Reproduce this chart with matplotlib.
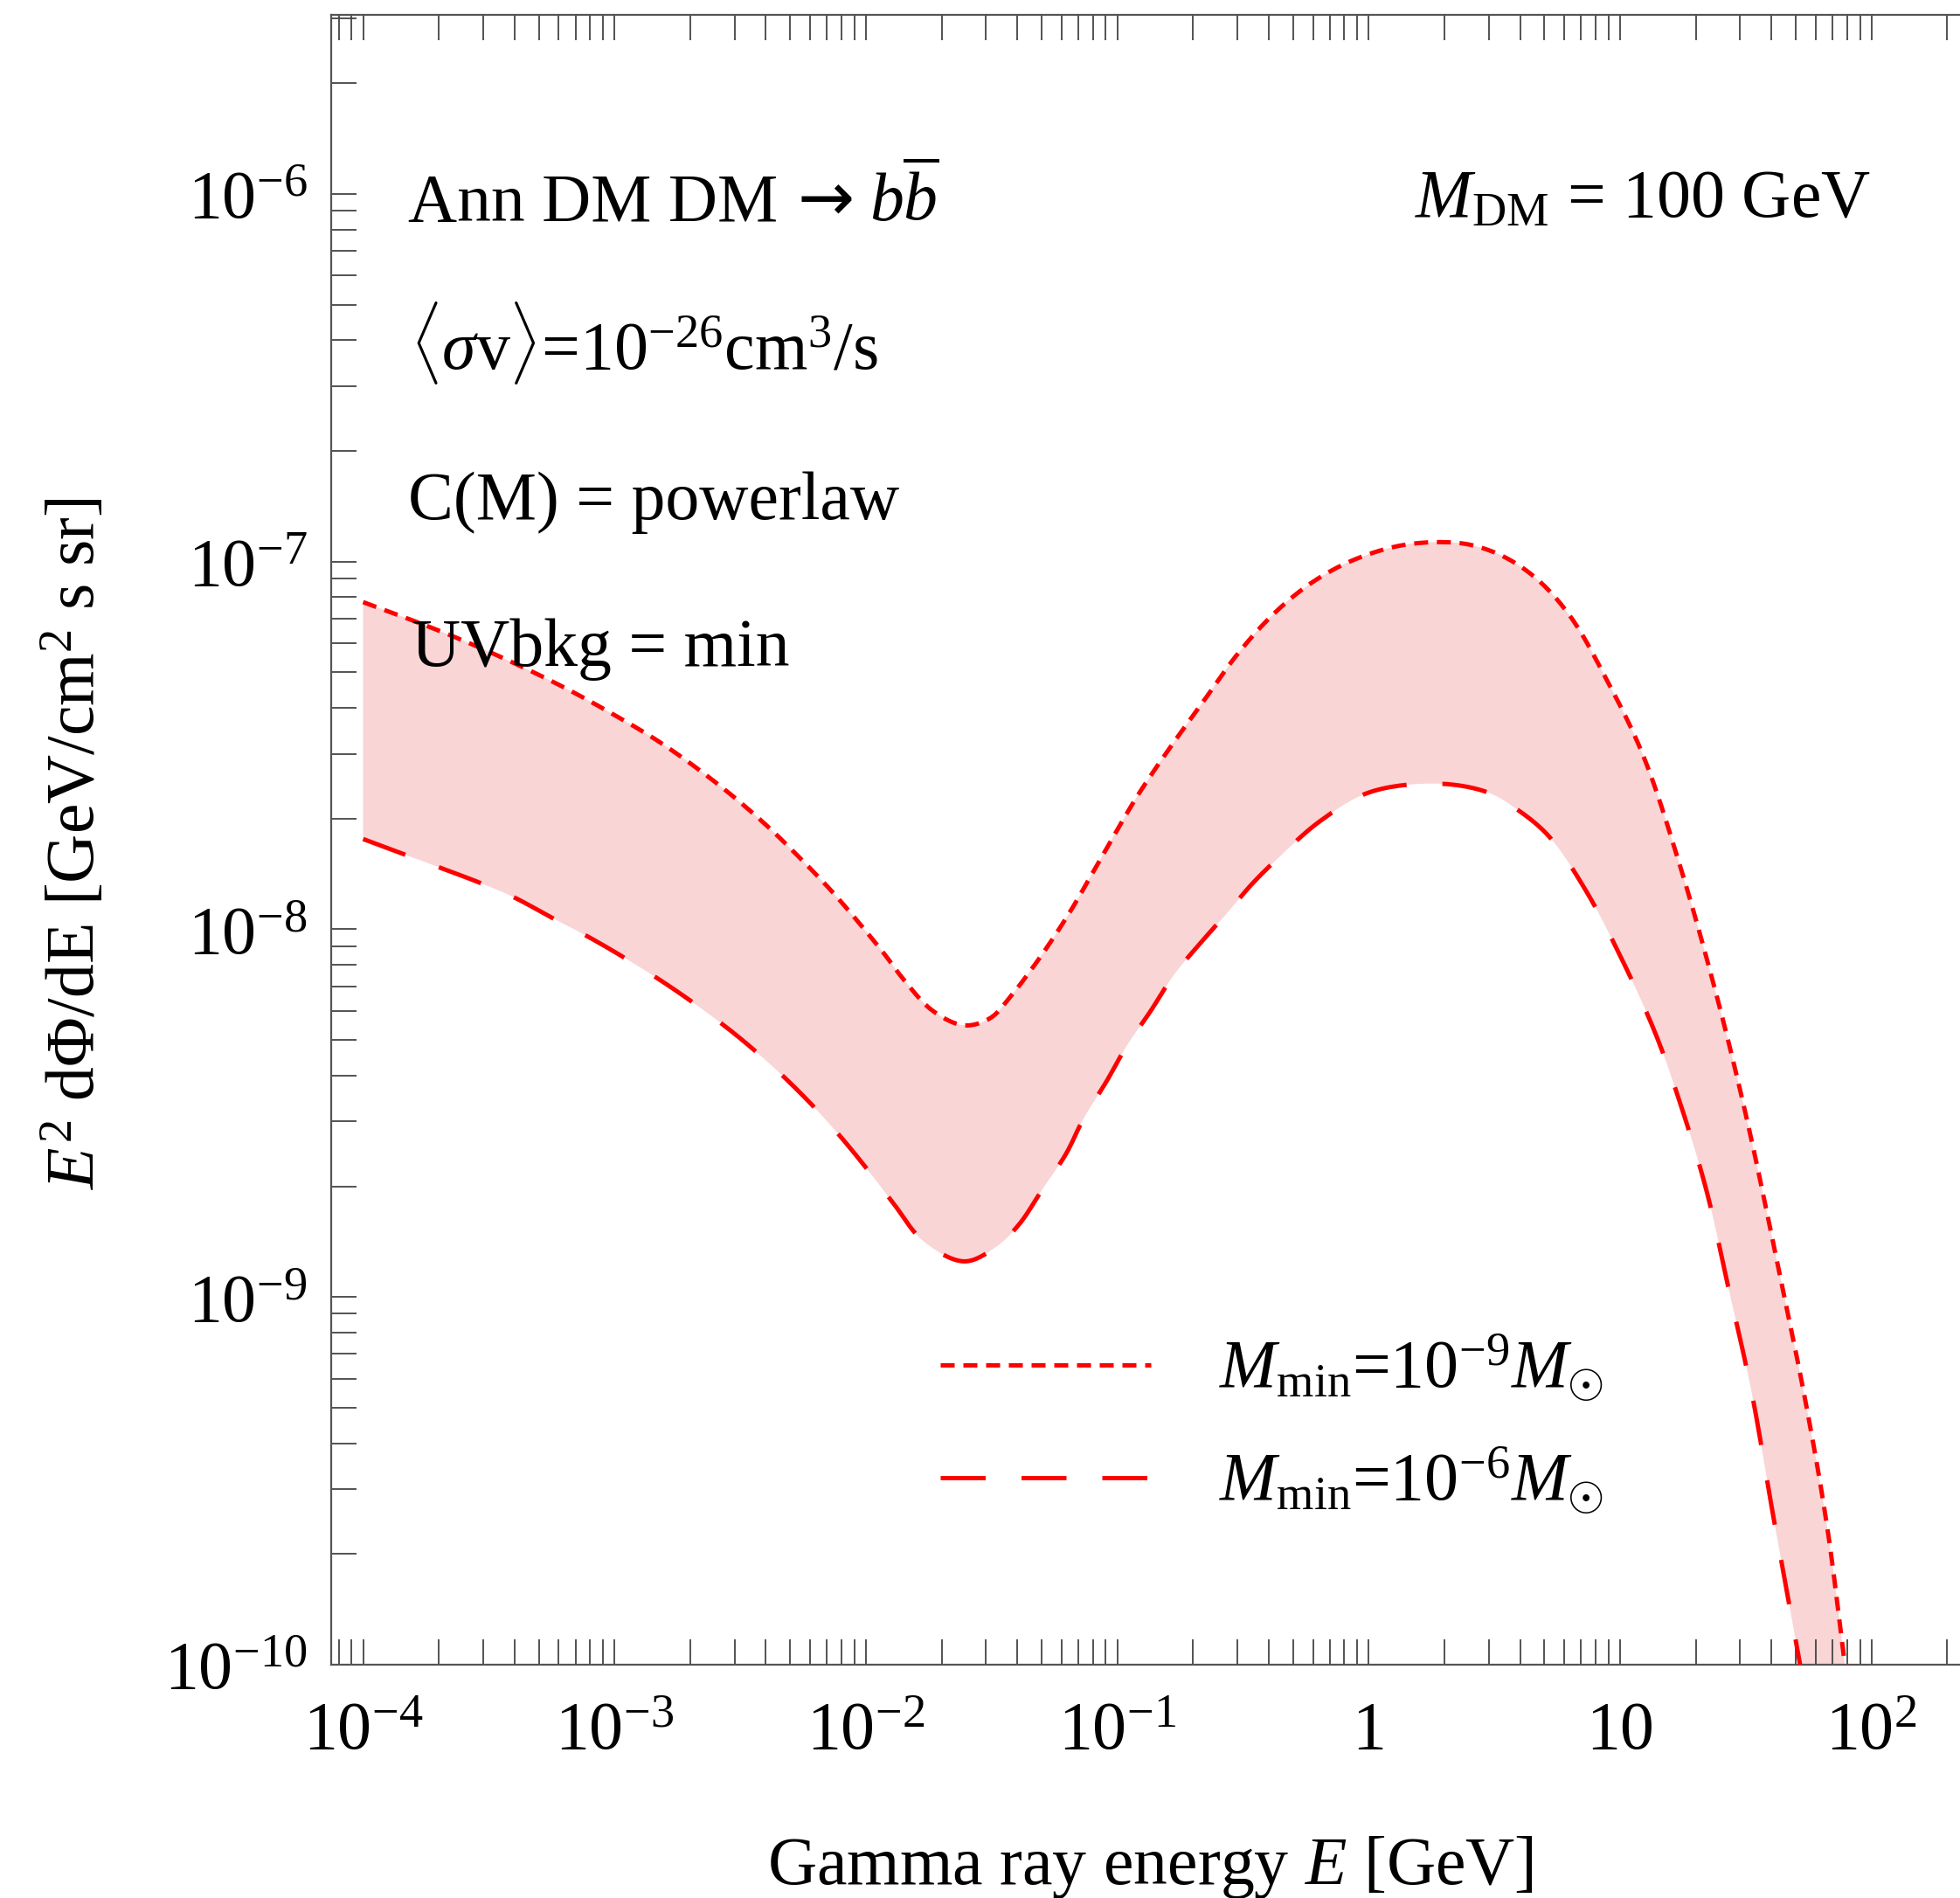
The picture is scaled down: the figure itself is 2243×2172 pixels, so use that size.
import numpy as np
import matplotlib
matplotlib.use('Agg')
import matplotlib.pyplot as plt
from matplotlib.ticker import LogLocator, NullFormatter

plt.rcParams['font.family'] = ['Liberation Serif', 'DejaVu Serif']
plt.rcParams['mathtext.fontset'] = 'custom'
plt.rcParams['mathtext.rm'] = 'Liberation Serif'
plt.rcParams['mathtext.it'] = 'Liberation Serif:italic'
plt.rcParams['mathtext.bf'] = 'Liberation Serif:bold'

# ---- data ----
energy_upper = [1.0e-4, 1.53e-4, 2.43e-4, 3.86e-4, 6.37e-4, 9.77e-4, 1.45e-3, 2.07e-3,
                2.96e-3, 4.08e-3, 5.43e-3, 7.23e-3, 9.29e-3, 1.19e-2, 1.40e-2, 1.84e-2,
                2.46e-2, 3.13e-2, 3.77e-2, 4.54e-2, 5.47e-2, 6.61e-2, 7.96e-2, 0.119,
                0.161, 0.219, 0.298, 0.405, 0.550, 0.746, 1.01, 1.38, 1.93, 2.55, 3.46,
                4.70, 6.38, 8.83, 12.3, 17.2, 24.0, 31.6, 41.7, 55.1, 66.8, 78.5]
flux_upper = [7.76e-8, 6.97e-8, 6.15e-8, 5.35e-8, 4.53e-8, 3.86e-8, 3.29e-8, 2.78e-8,
              2.30e-8, 1.90e-8, 1.57e-8, 1.28e-8, 1.05e-8, 8.53e-9, 7.36e-9, 6.01e-9,
              5.48e-9, 5.74e-9, 6.58e-9, 7.76e-9, 9.31e-9, 1.14e-8, 1.42e-8, 2.28e-8,
              3.10e-8, 4.15e-8, 5.56e-8, 7.05e-8, 8.45e-8, 9.62e-8, 1.05e-7, 1.11e-7,
              1.13e-7, 1.11e-7, 1.03e-7, 8.93e-8, 7.05e-8, 4.78e-8, 2.99e-8, 1.51e-8,
              6.75e-9, 3.14e-9, 1.29e-9, 5.04e-10, 2.34e-10, 9.9e-11]

energy_lower = [1.0e-4, 1.42e-4, 2.03e-4, 2.90e-4, 4.00e-4, 5.71e-4, 7.89e-4, 1.13e-3,
                1.56e-3, 2.15e-3, 2.96e-3, 3.80e-3, 5.06e-3, 6.50e-3, 8.34e-3, 1.07e-2,
                1.30e-2, 1.69e-2, 2.46e-2, 3.30e-2, 4.08e-2, 5.05e-2, 6.25e-2, 7.33e-2,
                9.08e-2, 0.109, 0.136, 0.167, 0.213, 0.271, 0.344, 0.431, 0.641, 1.01,
                1.87, 2.96, 3.85, 5.21, 7.28, 10.1, 13.8, 17.2, 22.0, 26.8, 33.4, 40.6, 52.0]
flux_lower = [1.76e-8, 1.61e-8, 1.47e-8, 1.34e-8, 1.22e-8, 1.07e-8, 9.53e-9, 8.26e-9,
              7.19e-9, 6.18e-9, 5.24e-9, 4.54e-9, 3.79e-9, 3.18e-9, 2.62e-9, 2.12e-9,
              1.78e-9, 1.42e-9, 1.25e-9, 1.37e-9, 1.58e-9, 1.97e-9, 2.45e-9, 3.05e-9,
              3.87e-9, 4.82e-9, 6.01e-9, 7.48e-9, 9.14e-9, 1.10e-8, 1.33e-8, 1.55e-8,
              1.97e-8, 2.36e-8, 2.49e-8, 2.36e-8, 2.13e-8, 1.79e-8, 1.28e-8, 8.36e-9,
              5.22e-9, 3.42e-9, 1.96e-9, 1.08e-9, 5.48e-10, 2.55e-10, 1.0e-10]

label_upper = r'$M_{\rm min}$=10$^{-9}$$M_{\odot}$'
label_lower = r'$M_{\rm min}$=10$^{-6}$$M_{\odot}$'

xtick_values = [1e-4, 1e-3, 1e-2, 1e-1, 1, 10, 1e2]
xtick_labels = [r'10$^{-4}$', r'10$^{-3}$', r'10$^{-2}$', r'10$^{-1}$', '1', '10', r'10$^{2}$']
ytick_values = [1e-10, 1e-9, 1e-8, 1e-7, 1e-6]
ytick_labels = [r'10$^{-10}$', r'10$^{-9}$', r'10$^{-8}$', r'10$^{-7}$', r'10$^{-6}$']


def smooth_curve(xs, ys, n=16, yscale=1.46):
    """Centripetal Catmull-Rom through the read points, in log-log space (rendering only)."""
    P = np.column_stack([np.log10(xs), np.log10(ys) * yscale])
    P = np.vstack([2 * P[0] - P[1], P, 2 * P[-1] - P[-2]])
    out = []
    for i in range(1, len(P) - 2):
        p0, p1, p2, p3 = P[i - 1], P[i], P[i + 1], P[i + 2]
        t0 = 0.0
        t1 = t0 + np.linalg.norm(p1 - p0) ** 0.5
        t2 = t1 + np.linalg.norm(p2 - p1) ** 0.5
        t3 = t2 + np.linalg.norm(p3 - p2) ** 0.5
        t = np.linspace(t1, t2, n, endpoint=False)[:, None]
        A1 = (t1 - t) / (t1 - t0) * p0 + (t - t0) / (t1 - t0) * p1
        A2 = (t2 - t) / (t2 - t1) * p1 + (t - t1) / (t2 - t1) * p2
        A3 = (t3 - t) / (t3 - t2) * p2 + (t - t2) / (t3 - t2) * p3
        B1 = (t2 - t) / (t2 - t0) * A1 + (t - t0) / (t2 - t0) * A2
        B2 = (t3 - t) / (t3 - t1) * A2 + (t - t1) / (t3 - t1) * A3
        C = (t2 - t) / (t2 - t1) * B1 + (t - t1) / (t2 - t1) * B2
        out.append(C)
    out.append(P[-2][None, :])
    Q = np.vstack(out)
    return 10 ** Q[:, 0], 10 ** (Q[:, 1] / yscale)


# ---- figure ----
W, H = 2243, 2172
fig = plt.figure(figsize=(W / 100, H / 100), dpi=100)
ax_left, ax_right, ax_top, ax_bottom = 379, 2283, 17, 1905
ax = fig.add_axes([ax_left / W, 1 - ax_bottom / H, (ax_right - ax_left) / W, (ax_bottom - ax_top) / H])
ax.set_xscale('log')
ax.set_yscale('log')

FS = 56
fill_color = '#f9d5d6'
line_color = '#ff0000'

ux, uy = smooth_curve(energy_upper, flux_upper)
lx, ly = smooth_curve(energy_lower, flux_lower)

ax.fill(np.concatenate([ux, lx[::-1]]), np.concatenate([uy, ly[::-1]]),
        color=fill_color, lw=0, zorder=1)
ax.plot(ux, uy, color=line_color, lw=3.6, dashes=(3.2, 2.0), label=label_upper, zorder=3)
ax.plot(lx, ly, color=line_color, lw=3.6, dashes=(10.3, 8.2), label=label_lower, zorder=3)

ax.set_xlim(10 ** -4.127, 10 ** 2.491)
ax.set_ylim(1e-10, 10 ** -5.513)

ax.set_xticks(xtick_values, labels=xtick_labels)
ax.set_yticks(ytick_values, labels=ytick_labels)
ax.xaxis.set_minor_locator(LogLocator(base=10, subs=np.arange(2, 10), numticks=100))
ax.yaxis.set_minor_locator(LogLocator(base=10, subs=np.arange(2, 10), numticks=100))
ax.xaxis.set_minor_formatter(NullFormatter())
ax.yaxis.set_minor_formatter(NullFormatter())

ax.tick_params(which='both', direction='in', length=21, width=1.3, color='#444444',
               top=True, right=True, labelsize=FS)
ax.tick_params(axis='x', which='both', pad=30)
ax.tick_params(axis='y', which='both', pad=20)
for sp in ax.spines.values():
    sp.set_color('#555555')
    sp.set_linewidth(1.6)

ax.set_xlabel(r'Gamma ray energy $E$ [GeV]', fontsize=FS)
ax.xaxis.set_label_coords((1316 - ax_left) / (ax_right - ax_left), (ax_bottom - 2156) / (ax_bottom - ax_top))
ax.xaxis.label.set_va('baseline')
ax.set_ylabel(r'$E^2$ d$\Phi$/dE [GeV/cm$^2$ s sr]', fontsize=FS)
ax.yaxis.set_label_coords((108 - ax_left) / (ax_right - ax_left), (ax_bottom - 965) / (ax_bottom - ax_top))
ax.yaxis.label.set_va('baseline')

# annotations
fig.text(467 / W, 1 - 253 / H, 'Ann DM DM', fontsize=FS, va='baseline')
fig.text(913 / W, 1 - 253 / H, '\u2192', fontsize=FS, va='baseline', family='DejaVu Sans')
fig.text(995 / W, 1 - 253 / H, r'$b\overline{b}$', fontsize=FS, va='baseline')
fig.text(469 / W, 1 - 422 / H, r'$\langle\sigma\mathrm{v}\rangle$=10$^{-26}$cm$^{3}$/s', fontsize=FS, va='baseline')
fig.text(467 / W, 1 - 594 / H, 'C(M) = powerlaw', fontsize=FS, va='baseline')
fig.text(471 / W, 1 - 762 / H, 'UVbkg = min', fontsize=FS, va='baseline')
fig.text(2141 / W, 1 - 248 / H, r'$M_{\rm DM}$ = 100 GeV', fontsize=FS, va='baseline', ha='right')

leg = ax.legend(loc='center left',
                bbox_to_anchor=((1076 - ax_left) / (ax_right - ax_left), (ax_bottom - 1630) / (ax_bottom - ax_top)),
                frameon=False, fontsize=FS, handlelength=3.1, handletextpad=1.0,
                labelspacing=0.6, borderpad=0, borderaxespad=0)

fig.savefig('out.png', dpi=100)
